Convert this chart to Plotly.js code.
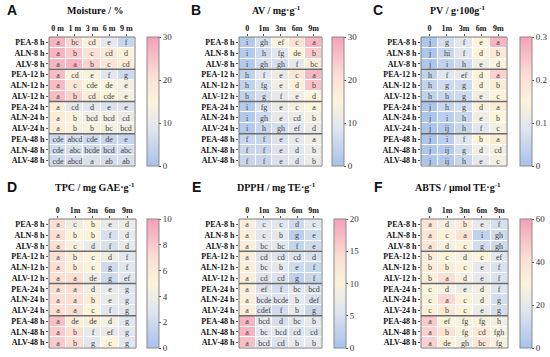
<!DOCTYPE html>
<html>
<head>
<meta charset="utf-8">
<script src="https://cdn.plot.ly/plotly-3.0.1.min.js"></script>
<style>html,body{margin:0;padding:0;background:#fff;}#chart{width:550px;height:357px;}</style>
</head>
<body>
<div id="chart"></div>
<script>
// ---- data ----
var rowLabels = ["PEA-8 h","ALN-8 h","ALV-8 h","PEA-12 h","ALN-12 h","ALV-12 h","PEA-24 h","ALN-24 h","ALV-24 h","PEA-48 h","ALN-48 h","ALV-48 h"];
var colsA = ["0 m","1 m","3 m","6 m","9 m"];
var colsOther = ["0","1m","3m","6m","9m"];

var moisture = [
  [27,22,16,10,5],[27,24,20,18,16],[27,27,23,19,17],
  [26,16,14,9,6],[26,19,15,14,13],[26,23,17,15,13],
  [17,10,9,8,8],[17,14,12,12,11],[17,14,14,13,12],
  [6,7,6,5,5],[6,7,6,6,7],[6,7,8,7,7]
];
var moistureL = [
  ["a","bc","cd","e","f"],["a","b","c","cd","d"],["a","a","b","c","cd"],
  ["a","cd","e","f","g"],["a","c","cde","de","e"],["a","b","cd","cde","e"],
  ["a","cd","d","e","e"],["a","b","bcd","bcd","cd"],["a","b","b","bc","bcd"],
  ["cde","abcd","cde","de","e"],["cde","abc","bcde","bcd","abc"],["cde","abcd","a","ab","ab"]
];
var av = [
  [2,7,14,20,27],[2,6,9,15,24],[2,7,7,10,17],
  [4,9,11,19,27],[4,8,12,16,25],[4,7,10,12,15],
  [2,8,11,13,15],[2,6,10,11,13],[2,5,7,9,11],
  [5,5,8,10,12],[5,5,8,9,11],[5,5,8,9,11]
];
var avL = [
  ["i","gh","ef","c","a"],["i","h","fg","de","b"],["i","gh","gh","f","bc"],
  ["h","f","e","c","a"],["h","fg","e","d","b"],["h","g","f","e","d"],
  ["i","fg","e","c","a"],["i","gh","e","cd","b"],["i","h","gh","ef","d"],
  ["f","f","e","c","a"],["f","f","e","d","b"],["f","f","e","d","b"]
];
var pv = [
  [0.01,0.07,0.09,0.15,0.27],[0.01,0.05,0.09,0.15,0.18],[0.01,0.04,0.06,0.12,0.15],
  [0.04,0.09,0.10,0.15,0.23],[0.04,0.06,0.06,0.15,0.17],[0.04,0.05,0.06,0.12,0.15],
  [0.01,0.05,0.07,0.14,0.17],[0.01,0.03,0.05,0.12,0.15],[0.01,0.02,0.05,0.09,0.13],
  [0.01,0.03,0.09,0.15,0.17],[0.01,0.02,0.07,0.12,0.13],[0.01,0.02,0.05,0.10,0.13]
];
var pvL = [
  ["j","g","f","e","a"],["j","hi","f","d","b"],["j","i","h","e","d"],
  ["h","f","ef","d","a"],["h","g","g","d","b"],["h","h","g","e","c"],
  ["j","h","g","d","a"],["j","i","h","e","b"],["j","ij","h","f","c"],
  ["j","i","f","b","a"],["j","ij","g","d","cd"],["j","ij","h","e","c"]
];
var tpc = [
  [7,4,5,3.5,3.8],[7,5,5,2.5,3.5],[7,4.5,3.5,2.5,3.5],
  [7,5.5,5,4,3],[7,5.5,5,2,3],[7,7,4,2,3],
  [7,7,4,3.5,3],[7,7,5.5,3.5,3],[7,7,5,3,3],
  [8.5,5.5,5.5,4.5,3],[8,7,3.5,3.5,3],[8,7,3,5,3]
];
var tpcL = [
  ["a","c","b","e","d"],["a","b","b","f","d"],["a","c","d","f","d"],
  ["a","b","c","d","f"],["a","b","c","g","f"],["a","a","de","g","ef"],
  ["a","a","d","e","g"],["a","a","b","e","g"],["a","a","c","f","g"],
  ["a","de","de","d","g"],["a","b","f","ef","g"],["a","b","g","c","g"]
];
var dpph = [
  [11,6,6,4,6],[11,6,6.5,2,4],[11,6,6,3,4],
  [11,5.5,5.5,5.5,5],[11,6,6.5,4,3.5],[11,5.5,5.5,2.5,3.5],
  [11,5,4.5,6,5.5],[11,5.5,5.5,6.5,5],[11,5,4.5,6.5,3.5],
  [18,6,5,6,6.5],[18,6,6,5.5,5.5],[17,6,5.5,6.5,6.5]
];
var dpphL = [
  ["a","c","c","d","c"],["a","c","b","g","e"],["a","bc","bc","f","e"],
  ["a","cd","cd","cd","d"],["a","bc","b","e","f"],["a","cd","cd","g","f"],
  ["a","ef","f","bc","bcd"],["a","bcde","bcde","b","def"],["a","cdef","f","b","g"],
  ["a","bcd","d","bc","b"],["a","bc","bcd","cd","cd"],["a","bcd","cd","b","b"]
];
var abts = [
  [38,25,35,20,15],[38,32,40,8,12],[38,27,32,13,12],
  [33,30,27,30,18],[33,33,30,20,16],[33,42,27,20,16],
  [30,27,23,26,17],[32,44,31,26,14],[32,36,30,22,14],
  [48,30,28,28,25],[46,40,28,36,27],[46,32,24,38,28]
];
var abtsL = [
  ["a","d","b","e","f"],["a","c","a","i","gh"],["a","d","c","g","gh"],
  ["b","c","d","c","ef"],["b","b","c","e","f"],["b","a","d","e","f"],
  ["c","d","e","d","f"],["c","a","c","d","g"],["c","b","c","e","g"],
  ["a","ef","fg","fg","h"],["a","b","fg","cd","fgh"],["a","de","gh","bc","fg"]
];
var titles = ["Moisture / %","AV / mg·g<sup>-1</sup>","PV / g·100g<sup>-1</sup>","TPC / mg GAE·g<sup>-1</sup>","DPPH / mg TE·g<sup>-1</sup>","ABTS / μmol TE·g<sup>-1</sup>"];
var panelLetters = ["A","B","C","D","E","F"];
var zMax = [30,30,0.3,10,20,60];
var cbTicks = [[0,10,20,30],[0,10,20,30],[0,0.1,0.2,0.3],[0,2,4,6,8,10],[0,5,10,15,20],[0,20,40,60]];

// ---- layout geometry (pixels) ----
var W = 550, H = 357;
var panels = [
  {x0:49, x1:135, y0:37, y1:166, cb:147, tx:95, lx:12, ty:10},
  {x0:239, x1:322, y0:37, y1:166, cb:332, tx:276, lx:196, ty:10},
  {x0:421, x1:507, y0:37, y1:166, cb:520, tx:458, lx:378, ty:10},
  {x0:49, x1:136, y0:219, y1:348, cb:147, tx:95, lx:12, ty:187},
  {x0:239, x1:322, y0:219, y1:348, cb:334, tx:276, lx:196, ty:187},
  {x0:421, x1:508, y0:219, y1:348, cb:520, tx:458, lx:378, ty:187}
];
var zs = [moisture, av, pv, tpc, dpph, abts];
var ls = [moistureL, avL, pvL, tpcL, dpphL, abtsL];

var cscale = [[0,'#a7c2ec'],[0.3,'#e2e6ee'],[0.5,'#fbf3da'],[0.7,'#fbdfd4'],[1,'#f5a0b8']];
var serif = 'Liberation Serif, Times New Roman, serif';

var data = [], layout = {
  width: W, height: H, margin:{l:0,r:0,t:0,b:0},
  paper_bgcolor:'#fff', plot_bgcolor:'#fff', showlegend:false,
  annotations:[], shapes:[]
};

for (var i=0;i<6;i++){
  var p = panels[i];
  var xa = 'x'+(i+1), ya = 'y'+(i+1);
  var xk = 'xaxis'+(i===0?'':(i+1)), yk = 'yaxis'+(i===0?'':(i+1));
  var yDomTop = 1 - p.y0/H, yDomBot = 1 - p.y1/H;
  data.push({
    type:'heatmap', z: zs[i], x: (i===0?colsA:colsOther), y: rowLabels,
    text: ls[i], texttemplate:'%{text}',
    textfont:{family:serif, size:8, color:'#444'},
    colorscale: cscale, zmin:0, zmax:zMax[i],
    xgap:1, ygap:1, hoverinfo:'skip',
    xaxis:xa, yaxis:ya,
    colorbar:{
      x: p.cb/W, xanchor:'left', xpad:0, ypad:0,
      thickness: 12, thicknessmode:'pixels',
      len: (p.y1-p.y0)/H, lenmode:'fraction',
      y: (yDomTop+yDomBot)/2, yanchor:'middle',
      outlinewidth:1, outlinecolor:'#8a8a8a',
      tickvals: cbTicks[i], ticks:'outside', ticklen:2, tickcolor:'#555', tickwidth:1,
      tickfont:{family:serif, size:9, color:'#333'}
    }
  });
  layout[xk] = {
    domain:[p.x0/W, p.x1/W], anchor:ya, side:'top', type:'category',
    ticks:'outside', ticklen:2, tickcolor:'#555', showgrid:false, zeroline:false,
    tickfont:{family:serif, size:8, color:'#111', weight:'bold'}, fixedrange:true
  };
  layout[yk] = {
    domain:[yDomBot, yDomTop], anchor:xa, autorange:'reversed', type:'category',
    ticks:'outside', ticklen:2, tickcolor:'#555', showgrid:false, zeroline:false,
    tickfont:{family:serif, size:8, color:'#111', weight:'bold'}, fixedrange:true
  };
  // border
  layout.shapes.push({type:'rect', xref:xa+' domain', yref:ya+' domain', x0:0, x1:1, y0:0, y1:1,
    line:{color:'#7a7a7a', width:1}});
  // group separators
  [2.5,5.5,8.5].forEach(function(yy){
    layout.shapes.push({type:'line', xref:xa+' domain', yref:ya, x0:0, x1:1, y0:yy, y1:yy,
      line:{color:'#6a6a6a', width:1.5}});
  });
  layout.annotations.push({xref:'paper', yref:'paper', x:p.tx/W, y:1-p.ty/H, xanchor:'center', yanchor:'middle',
    text:'<b>'+titles[i]+'</b>', showarrow:false, font:{family:serif, size:10, color:'#111'}});
  layout.annotations.push({xref:'paper', yref:'paper', x:p.lx/W, y:1-p.ty/H, xanchor:'center', yanchor:'middle',
    text:'<b>'+panelLetters[i]+'</b>', showarrow:false, font:{family:'Liberation Sans, Arial, sans-serif', size:14, color:'#111'}});
}

Plotly.newPlot('chart', data, layout, {displayModeBar:false, staticPlot:true});
</script>
</body>
</html>
